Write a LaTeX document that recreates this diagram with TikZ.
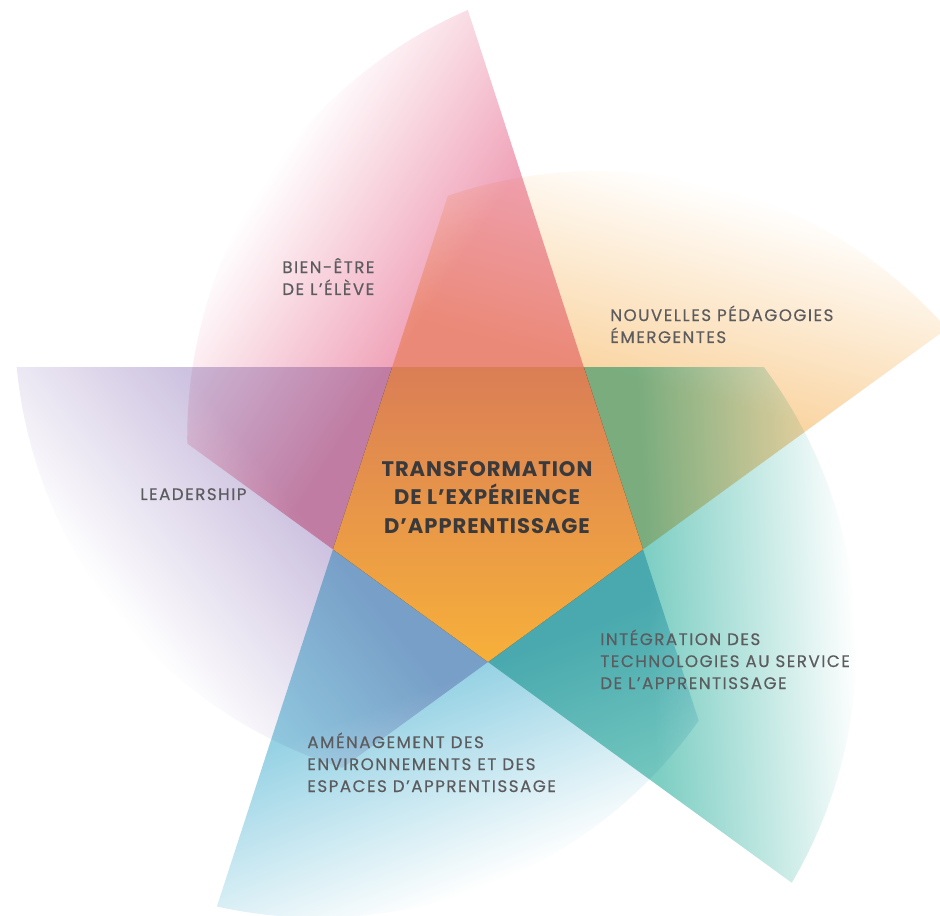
\documentclass[tikz,border=0pt]{standalone}
\usepackage{fontspec}
\setmainfont{Poppins}
\usetikzlibrary{calc}

\definecolor{wellpink}{RGB}{240,164,186}
\definecolor{pedapeach}{RGB}{250,214,165}
\definecolor{techteal}{RGB}{125,206,195}
\definecolor{spaceblue}{RGB}{150,210,228}
\definecolor{leadlilac}{RGB}{205,194,224}
\definecolor{coretop}{RGB}{218,126,86}
\definecolor{corebottom}{RGB}{247,176,58}
\definecolor{labelgray}{RGB}{92,92,95}
\definecolor{coregray}{RGB}{58,58,60}

% fade from the petal tint to white, 1 unit = 0.5669bp
\colorlet{tint}{wellpink}
\pgfdeclareverticalshading[tint]{petalfade}{680bp}{color(0bp)=(tint); color(181bp)=(tint); color(298bp)=(white); color(306bp)=(white)}

\tikzset{
  petaltext/.style={align=left, anchor=base west, inner sep=0pt, text=labelgray,
    font=\fontsize{9.5}{12.5}\selectfont\addfontfeature{LetterSpace=9,FakeBold=0.4}},
  coretext/.style={align=center, anchor=base, inner sep=0pt, text=coregray,
    font=\fontsize{12}{16}\selectfont\bfseries\addfontfeature{LetterSpace=4.5}},
}

\begin{document}
\begin{tikzpicture}[x=0.02cm, y=0.02cm]
  \useasboundingbox[fill=white] (-488,-417) rectangle (452,499);

  % five petals, each turned 72 degrees from the last
  \begin{scope}[blend mode=multiply]
    \foreach \k/\col in {0/wellpink,1/pedapeach,2/techteal,3/spaceblue,4/leadlilac}{
      \colorlet{tint}{\col}
      \pgfmathsetmacro\fade{57-72*\k}
      \begin{scope}[rotate=-72*\k]
        \clip (-20.2,489) arc[start angle=113.45, end angle=180.74, radius=466]
          -- (198:163) -- (-90:163) -- (-18:163) -- cycle;
        \node[inner sep=0pt, anchor=south, rotate=\fade] (fade\k) at (215.5,28.8) {\pgfuseshading{petalfade}};
      \end{scope}
    }
  \end{scope}

  % centre pentagon
  \coordinate (B) at (-90:163);
  \coordinate (R) at (-18:163);
  \coordinate (TR) at (54:163);
  \coordinate (TL) at (126:163);
  \coordinate (L) at (198:163);
  \shade[top color=coretop, bottom color=corebottom] (B) -- (R) -- (TR) -- (TL) -- (L) -- cycle;

  \node[coretext] (core) at (-1,-34) {TRANSFORMATION\\DE L’EXPÉRIENCE\\D’APPRENTISSAGE};
  \node[petaltext] (wellbeing) at (-206,204) {BIEN-ÊTRE\\DE L’ÉLÈVE};
  \node[petaltext] (pedagogy) at (122,156) {NOUVELLES PÉDAGOGIES\\ÉMERGENTES};
  \node[petaltext] (leadership) at (-348,-1) {LEADERSHIP};
  \node[petaltext] (techno) at (112,-190) {INTÉGRATION DES\\TECHNOLOGIES AU SERVICE\\DE L'APPRENTISSAGE};
  \node[petaltext] (spaces) at (-181,-293) {AMÉNAGEMENT DES\\ENVIRONNEMENTS ET DES\\ESPACES D’APPRENTISSAGE};
\end{tikzpicture}
\end{document}
